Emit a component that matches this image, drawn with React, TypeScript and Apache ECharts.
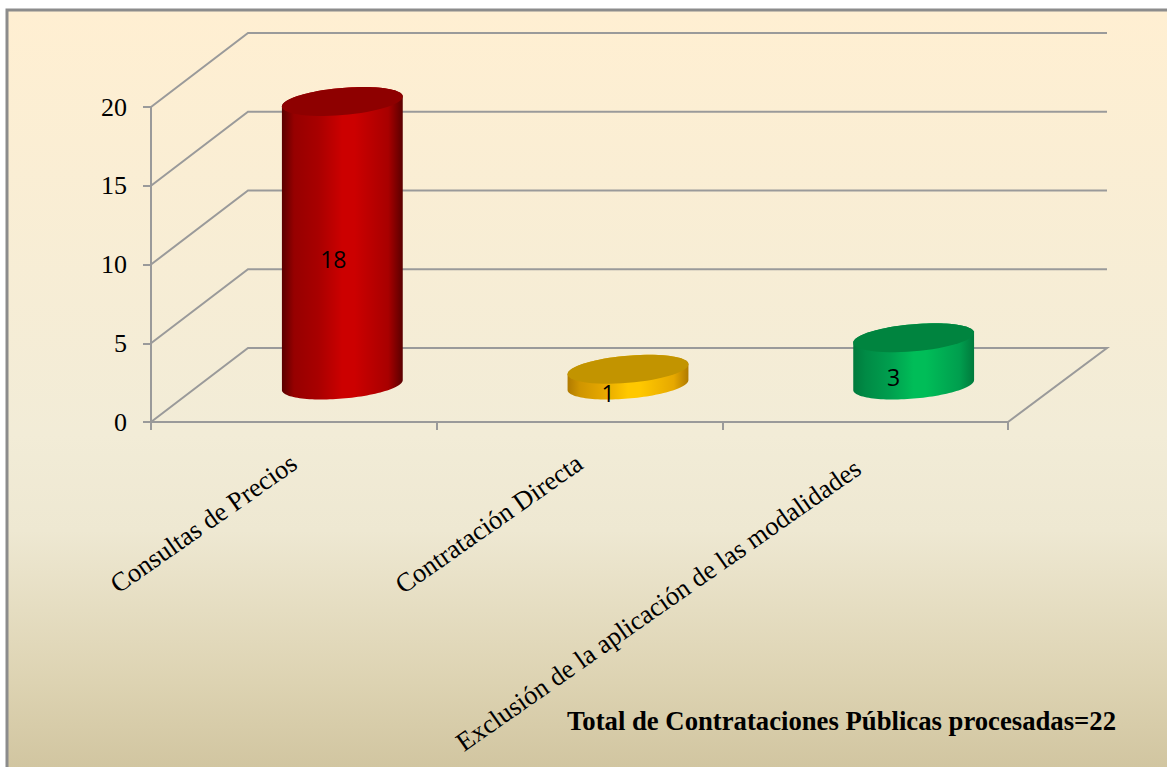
import React, { useEffect, useRef } from "react";
import * as echarts from "echarts";

const categories = ["Consultas de Precios", "Contratación Directa", "Exclusión de la aplicación de las modalidades"];
const values = [18, 1, 3];
const yTicks = [0, 5, 10, 15, 20];
const footerText = "Total de Contrataciones Públicas procesadas=22";

const palette = [
  { edge: "#5a0000", near: "#960000", mid: "#a80000", bright: "#cc0000", top: "#8e0000" },
  { edge: "#b07a00", near: "#cf9500", mid: "#e6a800", bright: "#ffc800", top: "#c29400" },
  { edge: "#007a3c", near: "#008a45", mid: "#009e4e", bright: "#00bd58", top: "#00843f" },
];

const DEPTH_X = 97;
const DEPTH_Y = 74;
const GRID_LINE = "#9a9a9a";

function ellipsePoint(cx: number, cy: number, rx: number, t: number): number[] {
  return [cx + rx * Math.cos(t), cy - 5 * Math.cos(t) + 13.6 * Math.sin(t)];
}

function arc(cx: number, cy: number, rx: number, from: number, to: number): number[][] {
  const pts: number[][] = [];
  const n = 60;
  for (let i = 0; i <= n; i++) pts.push(ellipsePoint(cx, cy, rx, from + ((to - from) * i) / n));
  return pts;
}

function renderWall(params: any, api: any) {
  const v = api.value(1);
  const y = api.coord([0, v])[1];
  const cs = params.coordSys;
  const x0 = cs.x;
  const x1 = cs.x + cs.width;
  const points = [
    [x0, y],
    [x0 + DEPTH_X, y - DEPTH_Y],
    [x1 + 99, y - DEPTH_Y],
  ];
  if (v === 0) points.push([x1, y]);
  return {
    type: "polyline",
    shape: { points },
    style: { stroke: GRID_LINE, lineWidth: 2, fill: "none" },
  };
}

function renderCylinder(params: any, api: any) {
  const i = api.value(0);
  const v = api.value(1);
  const base = api.coord([i, 0]);
  const top = api.coord([i, v]);
  const rx = api.size([1, 0])[0] * 0.2115;
  const cx = base[0] + DEPTH_X / 2;
  const by = base[1] - DEPTH_Y / 2;
  const ty = top[1] - DEPTH_Y / 2;
  const c = palette[i];
  const body = [...arc(cx, by, rx, Math.PI, 0), ...arc(cx, ty, rx, 0, -Math.PI)];
  const fill = new echarts.graphic.LinearGradient(0, 0, 1, 0, [
    { offset: 0, color: c.edge },
    { offset: 0.1, color: c.near },
    { offset: 0.3, color: c.mid },
    { offset: 0.5, color: c.bright },
    { offset: 0.6, color: c.bright },
    { offset: 0.88, color: c.mid },
    { offset: 1, color: c.edge },
  ]);
  return {
    type: "group",
    children: [
      { type: "polygon", shape: { points: body }, style: { fill } },
      { type: "polygon", shape: { points: arc(cx, ty, rx, 0, Math.PI * 2) }, style: { fill: c.top } },
      {
        type: "text",
        z2: 10,
        style: {
          text: String(v),
          x: base[0] + (v >= 10 ? 39.5 : 28.5),
          y: (base[1] + top[1]) / 2 - 21,
          fill: "#000",
          font: '23px "Open Sans"',
          textAlign: "center",
          textVerticalAlign: "middle",
        },
      },
    ],
  };
}

export default function App() {
  const ref = useRef<HTMLDivElement>(null);
  useEffect(() => {
    const chart = echarts.init(ref.current!, null, { renderer: "svg" });
    chart.setOption({
      animation: false,
      backgroundColor: "#ffffff",
      grid: { left: 151, top: 107, width: 857, height: 315, containLabel: false },
      xAxis: {
        type: "category",
        data: categories.map((c, i) =>
          i === 2 ? { value: c, textStyle: { padding: [0, 9, 0, 0] } } : c
        ),
        axisLine: { lineStyle: { color: GRID_LINE, width: 2 } },
        axisTick: { show: true, length: 8, lineStyle: { color: GRID_LINE, width: 2 }, alignWithLabel: false },
        axisLabel: {
          interval: 0,
          rotate: 35,
          margin: 38,
          color: "#000",
          fontFamily: "Liberation Serif",
          fontSize: 26.5,
        },
      },
      yAxis: {
        type: "value",
        min: 0,
        max: 20,
        interval: 5,
        splitLine: { show: false },
        axisLine: { show: true, lineStyle: { color: GRID_LINE, width: 2 } },
        axisTick: { show: true, length: 8, lineStyle: { color: GRID_LINE, width: 2 } },
        axisLabel: { margin: 24, color: "#000", fontFamily: "Liberation Serif", fontSize: 26 },
      },
      graphic: [
        {
          type: "rect",
          z: -10,
          silent: true,
          shape: { x: 7, y: 10, width: 1200, height: 800 },
          style: {
            stroke: "#8c8c8c",
            lineWidth: 3,
            fill: new echarts.graphic.LinearGradient(0, 0, 0, 1, [
              { offset: 0, color: "#FFEFD2" },
              { offset: 0.53, color: "#F2ECD7" },
              { offset: 0.65, color: "#EEE8D2" },
              { offset: 0.84, color: "#DDD3B2" },
              { offset: 0.95, color: "#D1C5A0" },
              { offset: 1, color: "#D1C5A0" },
            ]),
          },
        },
        {
          type: "text",
          z: 10,
          left: 567,
          top: 707,
          style: {
            text: footerText,
            fill: "#000",
            font: 'bold 26.7px "Liberation Serif"',
          },
        },
      ],
      series: [
        {
          type: "custom",
          z: 1,
          silent: true,
          renderItem: renderWall,
          encode: { x: 0, y: 1 },
          data: yTicks.map((t) => [0, t]),
        },
        {
          type: "custom",
          z: 3,
          silent: true,
          renderItem: renderCylinder,
          encode: { x: 0, y: 1 },
          data: values.map((v, i) => [i, v]),
        },
      ],
    });
    return () => chart.dispose();
  }, []);
  return <div ref={ref} style={{ position: "fixed", left: 0, top: 0, width: 1167, height: 767, overflow: "hidden" }} />;
}
